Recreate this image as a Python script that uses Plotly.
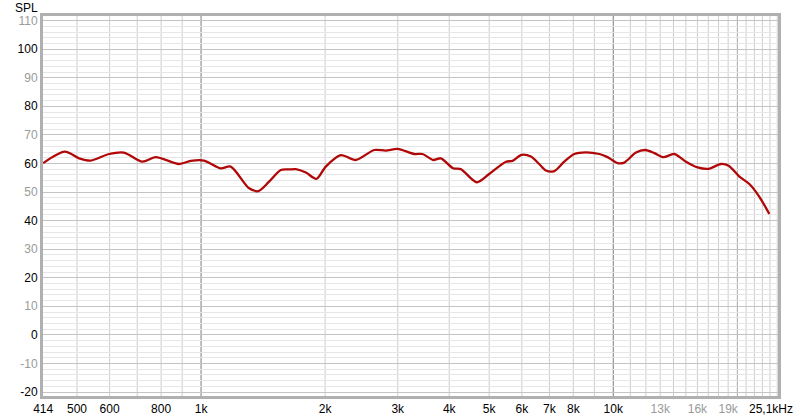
import math
import plotly.graph_objects as go

# Frequency response (Hz, dB SPL)
freq = [414, 467, 506, 540, 598, 650, 720, 776, 884, 944, 1017, 1116, 1180, 1308, 1377,
        1462, 1561, 1640, 1697, 1796, 1905, 2007, 2183, 2374, 2630, 2807, 2996, 3289,
        3445, 3657, 3817, 4090, 4267, 4667, 5000, 5490, 5697, 5991, 6312, 6610, 6865,
        7192, 7606, 8040, 8584, 9255, 9685, 10245, 10634, 11350, 11960, 12580, 13245,
        14060, 15010, 16020, 17030, 18250, 19050, 20230, 21390, 22600, 23910]
spl = [60.1, 64.1, 61.8, 61.0, 63.3, 63.8, 60.6, 62.2, 59.8, 60.9, 61.0, 58.3, 58.9, 51.3, 50.3,
       53.6, 57.7, 57.9, 58.0, 56.8, 54.6, 58.9, 62.9, 61.2, 64.7, 64.5, 65.1, 63.3,
       63.3, 61.2, 61.8, 58.3, 58.0, 53.4, 56.3, 60.6, 60.9, 63.0, 62.4, 59.8, 57.5,
       57.3, 60.6, 63.3, 63.9, 63.3, 62.2, 60.1, 60.3, 63.8, 64.7, 63.6, 62.2,
       63.3, 60.6, 58.6, 58.1, 59.8, 59.2, 55.4, 52.8, 48.4, 42.3]

x_tickvals = [414, 500, 600, 800, 1000, 2000, 3000, 4000, 5000, 6000, 7000, 8000, 10000, 13000, 16000, 19000]
x_ticklabels = ["414", "500", "600", "800", "1k", "2k", "3k", "4k", "5k", "6k", "7k", "8k", "10k", "13k", "16k", "19k"]
x_grey_labels = ["13k", "16k", "19k"]
end_label = "25,1kHz"

x_grid_light = [500, 600, 700, 800, 900, 2000, 3000, 4000, 5000, 6000, 7000, 8000, 9000,
                11000, 12000, 13000, 14000, 15000, 16000, 17000, 18000, 19000,
                21000, 22000, 23000, 24000, 25000]
x_grid_dark = [1000, 10000, 20000]

y_tickvals = list(range(-20, 111, 10))
y_black = [-20, 0, 20, 40, 60, 80, 100]

x_range = [414, 25100]
y_range = [-21.4, 111.6]

GREY = "#9a9a9a"

def colored(lbl, grey):
    return f"<span style='color:{GREY}'>{lbl}</span>" if grey else lbl

fig = go.Figure()
fig.add_trace(go.Scatter(x=freq, y=spl, mode="lines",
                         line=dict(color="#b00808", width=2.3, shape="spline", smoothing=0.8),
                         hoverinfo="skip"))

shapes = []
for f in x_grid_light:
    shapes.append(dict(type="line", xref="x", yref="paper", x0=f, x1=f, y0=0, y1=1,
                       line=dict(color="#cdcdcd", width=1), layer="between"))
for f in x_grid_dark:
    shapes.append(dict(type="line", xref="x", yref="paper", x0=f, x1=f, y0=0, y1=1,
                       line=dict(color="#7a7a7a" if f != 20000 else "#a8a8a8", width=1), layer="between"))

fig.update_layout(
    width=800, height=420,
    margin=dict(l=43, r=22, t=16, b=24),
    paper_bgcolor="white", plot_bgcolor="white",
    showlegend=False,
    font=dict(family="Liberation Sans, Arial, sans-serif", size=12, color="#000000"),
    shapes=shapes,
    xaxis=dict(
        type="log", automargin=False,
        range=[math.log10(x_range[0]) - 0.0005, math.log10(x_range[1])],
        tickmode="array",
        tickvals=x_tickvals,
        ticktext=[colored(t, t in x_grey_labels) for t in x_ticklabels],
        showgrid=False, zeroline=False,
        showline=True, linecolor="#b0b0b0", linewidth=3, mirror=True,
        ticks="", ticklen=0,
    ),
    yaxis=dict(
        range=y_range, automargin=False,
        tickmode="array",
        tickvals=y_tickvals,
        ticktext=[colored(str(v), v not in y_black) for v in y_tickvals],
        showgrid=True, gridcolor="#c4c4c4", gridwidth=1,
        minor=dict(dtick=2, tick0=0, showgrid=True, gridcolor="#e6e6e6", gridwidth=1),
        zeroline=False,
        showline=True, linecolor="#b0b0b0", linewidth=3, mirror=True,
        ticks="", ticklen=0,
    ),
    annotations=[
        dict(text="SPL", xref="paper", yref="paper", x=0, y=1, xanchor="right", yanchor="middle",
             xshift=-3, yshift=8, showarrow=False, font=dict(size=12, color="#000000")),
        dict(text=end_label, xref="paper", yref="paper", x=1, y=0, xanchor="right", yanchor="top",
             xshift=17, yshift=-4, showarrow=False, font=dict(size=12, color="#000000")),
    ],
)

fig.write_html("out.html",
               config={"displayModeBar": False, "staticPlot": True},
               post_script="document.body.style.margin='0';document.body.style.overflow='hidden';")
